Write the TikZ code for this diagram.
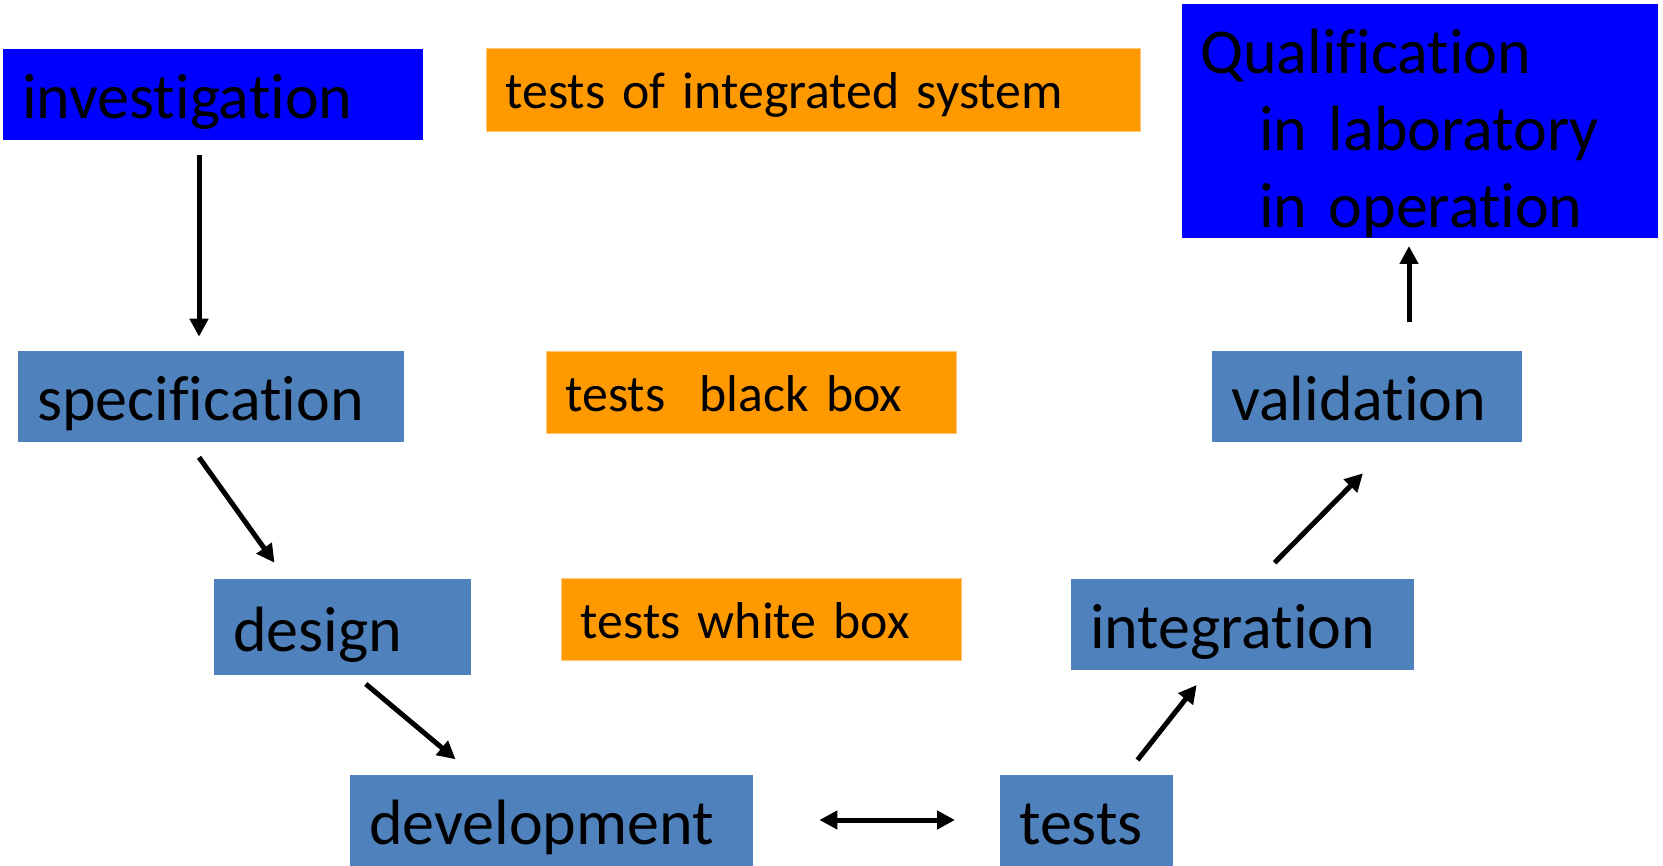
\documentclass[tikz,border=0pt]{standalone}
\usepackage{fontspec}
\setmainfont{Carlito}[Ligatures=NoCommon]
\usetikzlibrary{arrows.meta}
\definecolor{phaseblue}{HTML}{0000FF}
\definecolor{steel}{HTML}{4F81BD}
\definecolor{testorange}{HTML}{FF9900}

\begin{document}
\begin{tikzpicture}[x=1pt,y=-1pt,
  box/.style={anchor=north west, inner xsep=19pt, inner ysep=0pt, align=left,
    font=\fontsize{64}{76.7}\selectfont, text height=48pt, text depth=0pt, text=black},
  stage/.style={box, fill=steel},
  phase/.style={box, fill=phaseblue},
  testbox/.style={box, fill=testorange, draw=testorange!55!white, line width=0.8pt,
    font=\fontsize{51.8}{64}\selectfont, text height=37.6pt},
  arr/.style={line width=5pt, -{Triangle[width=18pt,length=18pt]}},
  dblarr/.style={line width=5pt, {Triangle[width=18pt,length=18pt]}-{Triangle[width=18pt,length=18pt]}},
]
\useasboundingbox (0,0) rectangle (1663,866);

% left branch of the V
\node[phase, text width=382pt, minimum height=91pt] (inv) at (3,49) {investigation};
\node[stage, text width=348pt, minimum height=90.7pt] (spec) at (18,351) {specification};
\node[stage, text width=218.5pt, minimum height=95.7pt] (design) at (214,579) {design};
\node[stage, text width=365pt, minimum height=91pt] (dev) at (350,775) {development};

% right branch of the V
\node[stage, text width=134.5pt, minimum height=91pt] (tests) at (1000,775) {tests};
\node[stage, text width=305pt, minimum height=90.3pt] (integ) at (1071,579) {integration};
\node[stage, text width=272pt, minimum height=90.7pt] (valid) at (1212,351) {validation};
\node[phase, inner xsep=18pt, text width=440pt, minimum height=234pt,
      text height=50pt, text depth=145.1pt] (qual) at (1182,4)
  {Qualification\\\hspace*{59pt}in laboratory\\\hspace*{59pt}in operation};

% test levels in the middle
\node[testbox, text width=616pt, minimum height=82.4pt] (tsys) at (486,48.3) {tests of integrated system};
\node[testbox, text width=372pt, minimum height=82.3pt] (tblack) at (546,351) {tests~~black box};
\node[testbox, text width=361.7pt, minimum height=82pt] (twhite) at (561.3,578) {tests white box};

% arrow end points
\coordinate (invout) at (199,155);
\coordinate (specin) at (199,336.7);
\coordinate (specout) at (199,457.3);
\coordinate (designin) at (274.5,562.7);
\coordinate (designout) at (365.8,684);
\coordinate (devin) at (455.6,759.3);
\coordinate (devside) at (819.4,820);
\coordinate (testsside) at (955,820);
\coordinate (testsout) at (1137.5,760);
\coordinate (integin) at (1196.7,685);
\coordinate (integout) at (1274.6,562.7);
\coordinate (validin) at (1363,473.3);
\coordinate (validout) at (1409,321.7);
\coordinate (qualin) at (1409,246);

\draw[arr] (invout) -- (specin);
\draw[arr] (specout) -- (designin);
\draw[arr] (designout) -- (devin);
\draw[dblarr] (devside) -- (testsside);
\draw[arr] (testsout) -- (integin);
\draw[arr] (integout) -- (validin);
\draw[arr] (validout) -- (qualin);
\end{tikzpicture}
\end{document}
